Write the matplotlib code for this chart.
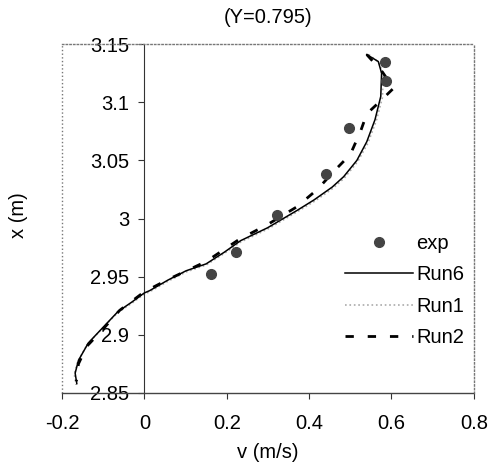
#! /usr/bin/env python3

import matplotlib
matplotlib.use("Agg")
import matplotlib.pyplot as plt
from matplotlib.ticker import FuncFormatter

plt.rcParams['font.family'] = ['Liberation Sans', 'DejaVu Sans']

# measured profile, velocity v (m/s) against position x (m)
exp_v = [0.162, 0.222, 0.321, 0.440, 0.497, 0.586, 0.585]
exp_x = [2.952, 2.971, 3.003, 3.038, 3.0775, 3.118, 3.135]

run6_v = [0.540, 0.568, 0.576, 0.574, 0.560, 0.540, 0.516, 0.484, 0.456,
          0.412, 0.371, 0.299, 0.234, 0.194, 0.150, 0.101, 0.057, 0.013,
          0.000, -0.031, -0.064, -0.096, -0.136, -0.160, -0.168, -0.164]
run6_x = [3.141, 3.135, 3.125, 3.105, 3.085, 3.066, 3.050, 3.036, 3.027,
          3.016, 3.007, 2.992, 2.981, 2.971, 2.961, 2.955, 2.947, 2.938,
          2.936, 2.928, 2.920, 2.908, 2.893, 2.878, 2.867, 2.858]

run1_v = [0.545, 0.570, 0.580, 0.578, 0.563, 0.543, 0.518, 0.486, 0.458,
          0.414, 0.372, 0.300, 0.235, 0.194, 0.150, 0.101, 0.057, 0.013,
          0.000, -0.031, -0.065, -0.098, -0.138, -0.162, -0.170, -0.166]
run1_x = [3.141, 3.134, 3.124, 3.104, 3.084, 3.065, 3.049, 3.035, 3.026,
          3.015, 3.006, 2.991, 2.980, 2.970, 2.960, 2.954, 2.946, 2.937,
          2.935, 2.927, 2.919, 2.907, 2.892, 2.877, 2.866, 2.857]

run2_v = [0.540, 0.578, 0.605, 0.570, 0.540, 0.525, 0.500, 0.464, 0.420,
          0.370, 0.300, 0.230, 0.150, 0.060, 0.000, -0.060, -0.100, -0.140,
          -0.160, -0.165]
run2_x = [3.141, 3.126, 3.112, 3.100, 3.090, 3.075, 3.055, 3.042, 3.025,
          3.010, 2.995, 2.982, 2.963, 2.948, 2.937, 2.921, 2.905, 2.890,
          2.875, 2.860]

x_ticks = [-0.2, 0, 0.2, 0.4, 0.6, 0.8]
y_ticks = [2.85, 2.9, 2.95, 3.0, 3.05, 3.1, 3.15]

FS = 14.5


def make_chart():
    fig = plt.figure(figsize=(4.88, 4.74), dpi=100)
    ax = fig.add_axes([0.127, 0.171, 0.844, 0.736])

    ax.plot(run6_v, run6_x, color='black', lw=1.1, label='Run6', zorder=3)
    ax.plot(run1_v, run1_x, color='#aaaaaa', lw=1.2, ls=':', label='Run1',
            zorder=2)
    ax.plot(run2_v, run2_x, color='black', lw=2.0, ls=(0, (3, 5)),
            label='Run2', zorder=4)
    ax.plot(exp_v, exp_x, 'o', color='#444444', ms=7, label='exp', zorder=5)

    ax.set_xlim(-0.2, 0.8)
    ax.set_ylim(2.85, 3.15)
    ax.set_xticks(x_ticks)
    ax.set_yticks(y_ticks)
    fmt = FuncFormatter(lambda v, p: '%g' % round(v, 3))
    ax.xaxis.set_major_formatter(fmt)
    ax.yaxis.set_major_formatter(fmt)

    # vertical axis crosses at v = 0, frame is dotted
    ax.spines['left'].set_position(('data', 0))
    ax.spines['left'].set_color('#333333')
    ax.spines['left'].set_linewidth(0.8)
    for side in ['top', 'right']:
        ax.spines[side].set_linestyle(':')
        ax.spines[side].set_color('#777777')
        ax.spines[side].set_linewidth(1.0)
    ax.spines['bottom'].set_linestyle((0, (2, 1)))
    ax.spines['bottom'].set_color('#444444')
    ax.spines['bottom'].set_linewidth(1.0)
    ax.axvline(-0.2, color='#777777', ls=':', lw=1.0, clip_on=False)

    ax.tick_params(axis='y', direction='out', length=4, width=0.8,
                   pad=7, labelsize=FS, color='#333333')
    ax.tick_params(axis='x', direction='out', length=4, width=0.8,
                   pad=11.5, labelsize=FS, color='#333333')

    ax.set_title('(Y=0.795)', fontsize=FS, pad=15)
    ax.set_xlabel('v (m/s)', fontsize=FS, labelpad=7)
    fig.text(0.037, 0.547, 'x (m)', rotation=90, fontsize=FS,
             ha='center', va='center')

    handles, labels = ax.get_legend_handles_labels()
    order = [3, 0, 1, 2]
    ax.legend([handles[i] for i in order], [labels[i] for i in order],
              loc='upper left', bbox_to_anchor=(0.687, 0.456),
              frameon=False, fontsize=FS, handlelength=3.4,
              handletextpad=0.15, labelspacing=0.62, borderpad=0,
              borderaxespad=0)

    fig.savefig("out.png", dpi=100)


def main():
    make_chart()


if __name__ == "__main__":
    main()
